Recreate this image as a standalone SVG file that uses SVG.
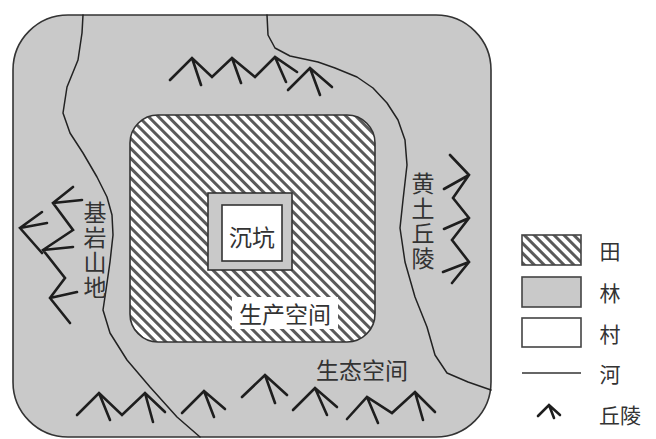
<svg xmlns="http://www.w3.org/2000/svg" width="656" height="439" viewBox="0 0 656 439">
  <defs>
    <!-- diagonal hatch for farmland -->
    <pattern id="hatch" patternUnits="userSpaceOnUse" width="7" height="7" patternTransform="rotate(-45)">
      <rect width="7" height="7" fill="#ffffff"/>
      <rect x="0" y="0" width="3" height="7" fill="#5a5a5a"/>
    </pattern>
    <style>
      .forest { fill: #c9c9c9; stroke: #333; stroke-width: 1.6; }
      .river { fill: none; stroke: #222; stroke-width: 1.5; stroke-linejoin: round; stroke-linecap: round; }
      .hill { fill: none; stroke: #1e1e1e; stroke-width: 2.6; stroke-linejoin: miter; stroke-linecap: round; }
      .lbl { font-family: "Noto Sans CJK SC", "Noto Sans", sans-serif; fill: #333; text-anchor: middle; dominant-baseline: central; }
      .big { font-size: 23px; }
      .leg { font-size: 21px; }
      .vert { writing-mode: vertical-rl; letter-spacing: 2px; }
      .box { stroke: #444; stroke-width: 1.6; }
    </style>
  </defs>

  <!-- ecological space (forest) -->
  <g id="eco-space">
    <rect class="forest" x="13" y="15" width="478" height="422" rx="55" ry="55"/>
  </g>

  <!-- production space (farmland) -->
  <g id="prod-space">
    <rect x="130" y="115" width="245" height="227" rx="28" ry="28" fill="url(#hatch)" stroke="#333" stroke-width="1.6"/>
    <rect x="232" y="297" width="106" height="32" fill="#ffffff"/>
    <text class="lbl big" x="285" y="313">生产空间</text>
  </g>

  <!-- sinkhole village -->
  <g id="village">
    <rect x="208" y="193" width="84" height="77" fill="#c9c9c9" stroke="#333" stroke-width="1.6"/>
    <rect x="222" y="205" width="60" height="56" fill="#ffffff" stroke="#333" stroke-width="1.6"/>
    <text class="lbl big" x="252" y="236">沉坑</text>
  </g>

  <!-- rivers -->
  <g id="rivers">
    <path class="river" d="M83,15 L82,33 L78,60 L67,87 L63,113 L70,133 L83,153 L97,177 L107,197 L112,215 L113,235 L110,262 L106,290 L103,310 L110,333 L127,360 L150,387 L177,417 L200,437"/>
    <path class="river" d="M267,15 L268,35 L275,48 L290,56 L318,62 L335,68 L357,77 L373,88 L387,103 L398,120 L405,140 L407,165 L403,200 L400,228 L405,262 L415,297 L427,327 L435,355 L447,373 L468,382 L491,390"/>
  </g>

  <!-- hills -->
  <g id="hills-top">
    <path class="hill" d="M170,80 L192,58 L212,77 L232,58 L255,77 L275,57 L297,72 M192,58 L201,85 M232,58 L241,83 M275,57 L286,82"/>
    <path class="hill" d="M288,90 L310,68 L332,87 M310,68 L320,95"/>
  </g>
  <g id="hills-bottom">
    <path class="hill" d="M77,415 L99,393 L122,415 L145,393 L165,412 M99,393 L110,420 M145,393 L153,422"/>
    <path class="hill" d="M182,413 L204,391 L225,409 M204,391 L214,417"/>
    <path class="hill" d="M242,397 L265,375 L287,395 M265,375 L275,403"/>
    <path class="hill" d="M293,410 L315,388 L337,407 M315,388 L327,415"/>
    <path class="hill" d="M347,419 L367,397 L392,413 L415,392 L435,412 M367,397 L378,423 M415,392 L423,420"/>
  </g>
  <g id="hills-left">
    <path class="hill" d="M73,187 L53,203 L73,230 L43,250 L65,278 L50,298 L70,323 M53,203 L82,200 M43,250 L73,247 M50,298 L77,292"/>
    <path class="hill" d="M42,212 L20,228 L42,253 M20,228 L47,223"/>
  </g>
  <g id="hills-right">
    <path class="hill" d="M450,155 L469,175 L453,198 L469,218 L452,240 L469,262 L452,283 M469,175 L444,189 M469,218 L444,229 M469,262 L443,272"/>
  </g>

  <!-- place labels -->
  <g id="label-eco">
    <text class="lbl big" x="362" y="369">生态空间</text>
  </g>
  <g id="label-bedrock">
    <text class="lbl big vert" x="95" y="251">基岩山地</text>
  </g>
  <g id="label-loess">
    <text class="lbl big vert" x="423" y="222">黄土丘陵</text>
  </g>

  <!-- legend -->
  <g id="legend-field">
    <rect class="box" x="522" y="235" width="59" height="30" fill="url(#hatch)"/>
    <text class="lbl leg" x="610" y="250">田</text>
  </g>
  <g id="legend-forest">
    <rect class="box" x="522" y="277" width="59" height="30" fill="#c9c9c9"/>
    <text class="lbl leg" x="610" y="292">林</text>
  </g>
  <g id="legend-village">
    <rect class="box" x="522" y="318" width="59" height="29" fill="#ffffff"/>
    <text class="lbl leg" x="610" y="333">村</text>
  </g>
  <g id="legend-river">
    <line x1="522" y1="373" x2="581" y2="373" stroke="#333" stroke-width="1.5"/>
    <text class="lbl leg" x="610" y="373">河</text>
  </g>
  <g id="legend-hill">
    <path class="hill" stroke-width="2" d="M538,416 L549,405 L560,415 M549,405 L554,418"/>
    <text class="lbl leg" x="620" y="414">丘陵</text>
  </g>
</svg>
